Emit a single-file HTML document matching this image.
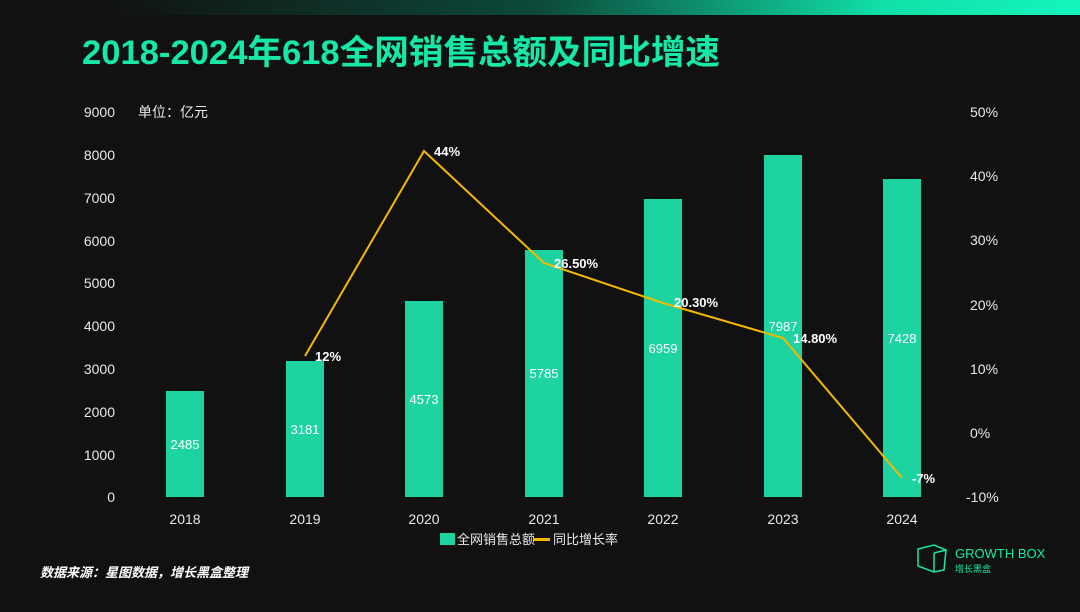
<!DOCTYPE html>
<html><head><meta charset="utf-8"><style>
body{margin:0;background:#111111;width:1080px;height:607px;overflow:hidden;font-family:"Liberation Sans","Noto Sans CJK SC",sans-serif}
</style></head><body>
<svg width="1080" height="607" viewBox="0 0 1080 607" xmlns="http://www.w3.org/2000/svg" font-family="Liberation Sans, Noto Sans CJK SC, sans-serif">
<defs><linearGradient id="g" x1="0" x2="1"><stop offset="0" stop-color="#111"/><stop offset="0.45" stop-color="#0c4a3a"/><stop offset="0.8" stop-color="#10e0a8"/><stop offset="1" stop-color="#14f5bc"/></linearGradient></defs>
<rect width="1080" height="607" fill="#111111"/>
<rect x="100" y="0" width="980" height="15" fill="url(#g)"/>
<text x="82" y="64" font-size="34" font-weight="bold" fill="#16e8a8" textLength="638" lengthAdjust="spacingAndGlyphs">2018-2024年618全网销售总额及同比增速</text>
<g font-size="14" fill="#e8e8e8">
<text x="115" y="117" text-anchor="end">9000</text>
<text x="115" y="160" text-anchor="end">8000</text>
<text x="115" y="203" text-anchor="end">7000</text>
<text x="115" y="246" text-anchor="end">6000</text>
<text x="115" y="288" text-anchor="end">5000</text>
<text x="115" y="331" text-anchor="end">4000</text>
<text x="115" y="374" text-anchor="end">3000</text>
<text x="115" y="417" text-anchor="end">2000</text>
<text x="115" y="460" text-anchor="end">1000</text>
<text x="115" y="502" text-anchor="end">0</text>
<text x="138" y="117">单位：亿元</text>
<text x="970" y="117">50%</text>
<text x="970" y="181">40%</text>
<text x="970" y="245">30%</text>
<text x="970" y="310">20%</text>
<text x="970" y="374">10%</text>
<text x="970" y="438">0%</text>
<text x="966" y="502">-10%</text>
</g>
<g fill="#1dd3a0">
<rect x="166" y="391" width="38" height="106"/>
<rect x="286" y="361" width="38" height="136"/>
<rect x="405" y="301" width="38" height="196"/>
<rect x="525" y="250" width="38" height="247"/>
<rect x="644" y="199" width="38" height="298"/>
<rect x="764" y="155" width="38" height="342"/>
<rect x="883" y="179" width="38" height="318"/>
</g>
<g font-size="13" fill="#fff" text-anchor="middle">
<text x="185" y="449">2485</text><text x="305" y="434">3181</text><text x="424" y="404">4573</text>
<text x="544" y="378">5785</text><text x="663" y="353">6959</text><text x="783" y="331">7987</text><text x="902" y="343">7428</text>
</g>
<polyline points="305,356 424,151 544,263 663,303 783,338 902,478" fill="none" stroke="#f5b800" stroke-width="2"/>
<g font-size="13" fill="#fff" font-weight="bold">
<text x="315" y="361">12%</text><text x="434" y="156">44%</text><text x="554" y="268">26.50%</text>
<text x="674" y="307">20.30%</text><text x="793" y="343">14.80%</text><text x="912" y="483">-7%</text>
</g>
<g font-size="14" fill="#e8e8e8" text-anchor="middle">
<text x="185" y="524">2018</text><text x="305" y="524">2019</text><text x="424" y="524">2020</text>
<text x="544" y="524">2021</text><text x="663" y="524">2022</text><text x="783" y="524">2023</text><text x="902" y="524">2024</text>
</g>
<rect x="440" y="533" width="15" height="12" fill="#1dd3a0"/>
<text x="457" y="544" font-size="13" fill="#e8e8e8">全网销售总额</text>
<rect x="533" y="538" width="17" height="3" fill="#f5b800"/>
<text x="553" y="544" font-size="13" fill="#e8e8e8">同比增长率</text>
<text x="40" y="577" font-size="13" font-style="italic" font-weight="bold" fill="#fff">数据来源：星图数据，增长黑盒整理</text>
<g stroke="#16e8a8" stroke-width="1.5" fill="none"><path d="M918 549 L934 545 L946 550 L944 570 L934 572 L918 566 Z M934 553 L946 550 M934 553 L934 572"/></g>
<text x="955" y="558" font-size="13" fill="#16e8a8">GROWTH BOX</text>
<text x="955" y="572" font-size="9" fill="#16e8a8">增长黑盒</text>
</svg>
</body></html>
